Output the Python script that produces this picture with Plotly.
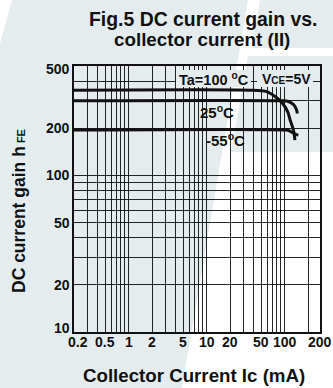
import math
import plotly.graph_objects as go

W, H = 333, 388
ML, MR, MT, MB = 74, 13, 66, 56
PW, PH = W - ML - MR, H - MT - MB

FONT = "Liberation Sans, Arial, sans-serif"
BG = "#e4ecee"
INK = "#111"

# Collector current Ic (mA) and DC current gain hFE, VCE = 5 V
ic_100 = [0.2, 36, 59, 76.5, 94, 110, 118, 130, 136]
hfe_100 = [350, 350, 343, 318, 289, 255, 226, 195, 168]

ic_25 = [0.2, 95, 110, 124, 134, 140, 144, 146]
hfe_25 = [300, 300, 298, 289, 279, 268, 258, 249]

ic_m55 = [0.2, 105, 115, 124, 137, 150]
hfe_m55 = [195, 195, 193, 189, 184, 180]

# Log grid and labels
x_labeled = [0.2, 0.5, 1, 2, 5, 10, 20, 50, 100, 200]
x_minor = [0.3, 0.4, 0.6, 0.7, 0.8, 0.9, 3, 4, 6, 7, 8, 9,
           30, 40, 60, 70, 80, 90]
y_labeled = [10, 20, 50, 100, 200, 500]
y_minor = [30, 40, 60, 70, 80, 90, 300, 400]
x_max = 285

# small nudges so end labels clear each other
x_label_shift = {0.2: 4, 200: 12}
y_label_shift = {10: 4, 500: -3}


def fmt(v):
    return "%g" % v


def px(x):
    return (x - ML) / PW


def py(y):
    return (H - MB - y) / PH


def poly(points):
    return "M " + " L ".join(f"{px(a):.4f},{py(b):.4f}" for a, b in points) + " Z"


fig = go.Figure()

for ic, hfe in [(ic_100, hfe_100), (ic_25, hfe_25), (ic_m55, hfe_m55)]:
    fig.add_trace(go.Scatter(
        x=ic, y=hfe, mode="lines",
        line=dict(color=INK, width=3, shape="spline", smoothing=0.7),
        showlegend=False, hoverinfo="skip"))

shapes = []
# faint background logo
for pts in [
    [(12, 0), (248, 0), (182, H), (0, H), (0, 44)],
    [(260, 0), (W, 0), (W, 48), (252, 48)],
    [(248, 56), (W, 56), (W, 152), (231, 152)],
]:
    shapes.append(dict(type="path", xref="paper", yref="paper", path=poly(pts),
                       fillcolor=BG, line=dict(width=0), layer="below"))

# label backgrounds over the grid
for x0, x1, y0, y1 in [(176, 251, 70, 87), (257, 313, 70, 87)]:
    shapes.append(dict(type="rect", xref="paper", yref="paper",
                       x0=px(x0), x1=px(x1), y0=py(y1), y1=py(y0),
                       fillcolor=BG, line=dict(width=0), layer="above"))

ann = []


def text(x, y, s, size, **kw):
    ann.append(dict(xref="paper", yref="paper", x=px(x), y=py(y), text=s,
                    showarrow=False, font=dict(family=FONT, size=size, color=INK),
                    xanchor="center", yanchor="middle", **kw))


text(202.5, 19, "<b>Fig.5 DC current gain vs.</b>", 19.4)
text(201.5, 39, "<b>collector current (II)</b>", 18.8)
text(194, 375, "<b>Collector Current Ic (mA)</b>", 18.7)
text(19, 211, "<b>DC current gain h<span style='font-size:11px'> FE</span></b>", 17.5,
     textangle=-90)
text(214, 79, "<b>Ta=100 <sup>o</sup>C</b>", 14.5)
text(286, 79, "<b>V<span style='font-size:10px'>CE</span>=5V</b>", 14)
text(217, 111, "<b>25<sup>o</sup>C</b>", 15)
text(225, 139, "<b>-55<sup>o</sup>C</b>", 15)

# axis tick labels
for v in x_labeled:
    ann.append(dict(xref="x", yref="paper", x=math.log10(v), y=py(342),
                    text=f"<b>{fmt(v)}</b>", showarrow=False,
                    xshift=x_label_shift.get(v, 0),
                    font=dict(family=FONT, size=14, color=INK),
                    xanchor="center", yanchor="middle"))
for v in y_labeled:
    ann.append(dict(xref="paper", yref="y", x=px(72), y=math.log10(v),
                    text=f"<b>{fmt(v)}</b>", showarrow=False,
                    yshift=y_label_shift.get(v, 0),
                    font=dict(family=FONT, size=14, color=INK),
                    xanchor="right", yanchor="middle"))

fig.update_layout(
    width=W, height=H,
    margin=dict(l=ML, r=MR, t=MT, b=MB, pad=0),
    paper_bgcolor="white", plot_bgcolor="rgba(0,0,0,0)",
    shapes=shapes, annotations=ann,
    font=dict(family=FONT, color=INK),
)

grid_col = "rgba(0,0,0,0.85)"
axis_common = dict(
    type="log", showline=True, mirror=True, linecolor=INK, linewidth=1.5,
    showgrid=True, gridcolor=grid_col, gridwidth=1, ticks="",
    showticklabels=False, zeroline=False, fixedrange=True,
)

fig.update_xaxes(
    range=[math.log10(0.2), math.log10(x_max)],
    tickvals=x_labeled,
    minor=dict(tickvals=x_minor, showgrid=True, gridcolor=grid_col,
               gridwidth=1, ticks=""),
    **axis_common,
)
fig.update_yaxes(
    range=[1, math.log10(500)],
    tickvals=y_labeled,
    minor=dict(tickvals=y_minor, showgrid=True, gridcolor=grid_col,
               gridwidth=1, ticks=""),
    **axis_common,
)

fig.write_html("out.html")
